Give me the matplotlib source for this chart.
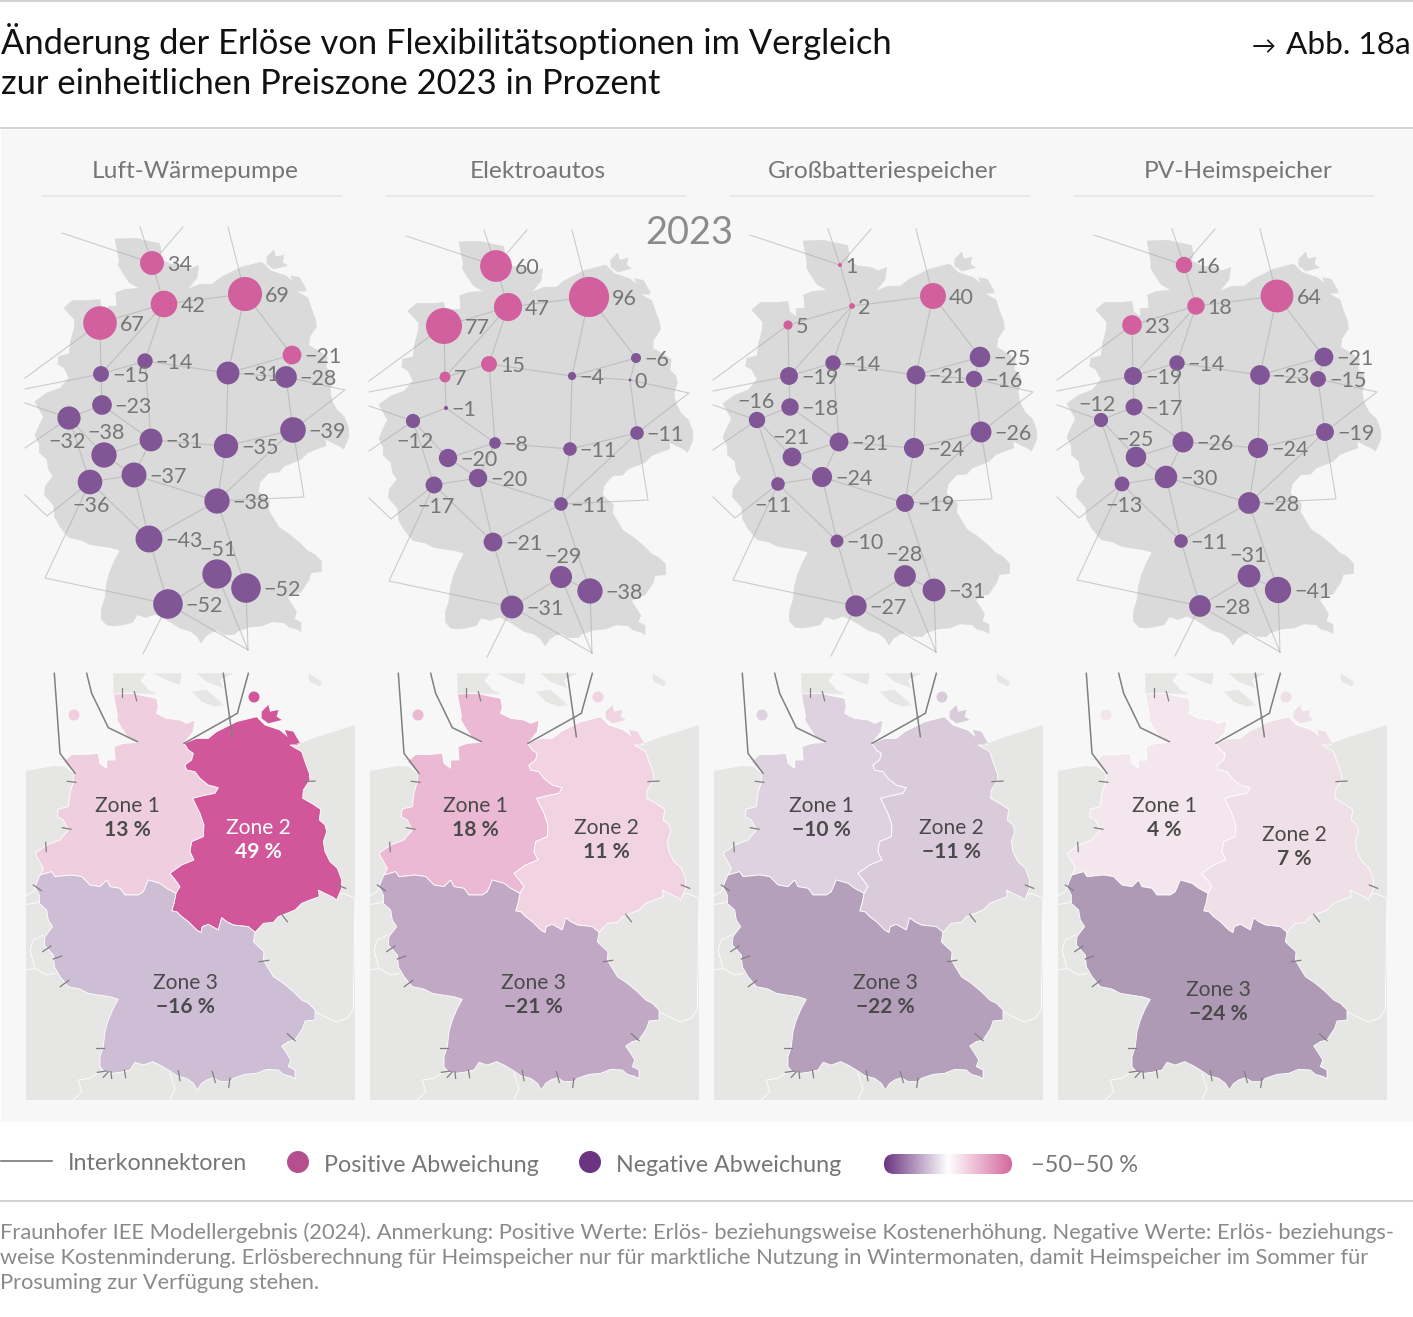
import numpy as np
import matplotlib
matplotlib.use('Agg')
import matplotlib.pyplot as plt
from matplotlib.colors import LinearSegmentedColormap
from matplotlib.patches import Polygon, Circle, FancyBboxPatch, Rectangle

FONT = 'Lato'
PT = 0.72  # px to pt at dpi 100

TITLE_LINES = ['Änderung der Erlöse von Flexibilitätsoptionen im Vergleich',
               'zur einheitlichen Preiszone 2023 in Prozent']
PANELS = ['Luft-Wärmepumpe', 'Elektroautos', 'Großbatteriespeicher', 'PV-Heimspeicher']
PANEL_CENTERS = [195, 538, 883, 1238]
FOOTNOTE = ['Fraunhofer IEE Modellergebnis (2024). Anmerkung: Positive Werte: Erlös- beziehungsweise Kostenerhöhung. Negative Werte: Erlös- beziehungs-',
            'weise Kostenminderung. Erlösberechnung für Heimspeicher nur für marktliche Nutzung in Wintermonaten, damit Heimspeicher im Sommer für',
            'Prosuming zur Verfügung stehen.']

# node values, same node order in every panel
VALUES_HP = [34, 42, 69, 67, -21, -14, -15, -31, -28, -23, -32, -39, -31, -35, -38, -37, -36, -38, -43, -51, -52, -52]
VALUES_EV = [60, 47, 96, 77, -6, 15, 7, -4, 0, -1, -12, -11, -8, -11, -20, -20, -17, -11, -21, -29, -38, -31]
VALUES_BAT = [1, 2, 40, 5, -25, -14, -19, -21, -16, -18, -16, -26, -21, -24, -21, -24, -11, -19, -10, -28, -31, -27]
VALUES_PV = [16, 18, 64, 23, -21, -14, -19, -23, -15, -17, -12, -19, -26, -24, -25, -30, -13, -28, -11, -31, -41, -28]
NODE_VALUES = [VALUES_HP, VALUES_EV, VALUES_BAT, VALUES_PV]
# the -21 node in the first panel is drawn pink in the source
PINK_NODES = [{4}, set(), set(), set()]

# zone results per panel
ZONE_VALUES = [[13, 49, -16], [18, 11, -21], [-10, -11, -22], [4, 7, -24]]
ZONE_COLORS = [['#efcfdf', '#d2579a', '#cdbdd5'],
               ['#ebb9d3', '#f1d3e1', '#c1a9c6'],
               ['#dfd2e0', '#dacbdb', '#b4a0ba'],
               ['#f3e6ec', '#efdfe6', '#ae9ab5']]
ZONE_TEXT = [[(127, 806), (258, 828), (185, 983)],
             [(475, 806), (606, 828), (533, 983)],
             [(821, 806), (951, 828), (885, 983)],
             [(1164, 806), (1294, 835), (1218, 990)]]

# node location on the first panel (px), others are shifted
NODE_X = [152, 164, 245, 100, 292, 145, 101, 228, 286, 102, 69, 293, 151, 226, 104, 134, 90, 217, 149, 217, 246, 168]
NODE_Y = [263, 304, 294, 323, 355, 361, 374, 373, 377, 405, 418, 430, 440, 446, 455, 475, 482, 501, 539, 574, 588, 604]
PANEL_DX = [0, 344, 688, 1032]
PANEL_DY = [0, 3, 2, 2]

# labels that do not sit right of their bubble
LABEL_POS = [{10: (67, 441), 14: (106, 432), 16: (91, 505), 19: (218, 549)},
             {10: (415, 441), 16: (436, 506), 19: (563, 556)},
             {10: (756, 401), 14: (791, 437), 16: (773, 505), 19: (904, 554)},
             {10: (1097, 404), 14: (1135, 439), 16: (1124, 505), 19: (1248, 555)}]

# interconnector end points outside the nodes (first panel, px)
EXT = {'a': (62, 233), 'b': (140, 227), 'c': (183, 227), 'd': (228, 227), 'e': (25, 378), 'f': (25, 389),
       'g': (25, 403), 'h': (25, 448), 'i': (345, 390), 'j': (304, 497), 'k': (47, 516), 'l': (25, 495),
       'm': (45, 578), 'n': (248, 650), 'o': (143, 654)}
LINKS = [[0, 1], [0, 'a'], [0, 'b'], [0, 'c'], [1, 2], [1, 3], [1, 5], [1, 6], [2, 7], [2, 4], [2, 'd'],
         [3, 6], [3, 'e'], [6, 5], [6, 9], [6, 'f'], [5, 7], [5, 12], [7, 4], [7, 8], [7, 13], [4, 8], [8, 11],
         [8, 'i', 11], [9, 10], [9, 12], [10, 14], [10, 16], [10, 'g'], [10, 'h'], [14, 15], [14, 12], [12, 13],
         [12, 15], [15, 16], [15, 18], [15, 17], [16, 18], [16, 'k', 'l'], [16, 'm', 21], [13, 11], [13, 17],
         [11, 17], [11, 'j', 17], [17, 18], [17, 20], [18, 21], [19, 21], [19, 20], [19, 'n'], [20, 'n'], [21, 'n'], [21, 'o']]

# map outlines, traced at 3x of the first panel, origin at y=665
ZONE1 = [(340, 87), (400, 85), (435, 93), (470, 100), (475, 125), (470, 145), (500, 160), (540, 165), (560, 175),
         (585, 165), (580, 200), (552, 235), (565, 255), (580, 265), (575, 285), (555, 300), (560, 315), (585, 320),
         (600, 340), (625, 360), (655, 368), (645, 385), (610, 392), (578, 400), (590, 425), (600, 445), (612, 480),
         (610, 515), (575, 530), (570, 560), (582, 585), (545, 600), (510, 625), (530, 650), (540, 665), (528, 685),
         (500, 670), (480, 655), (445, 645), (430, 680), (415, 690), (375, 690), (360, 670), (330, 665), (320, 645),
         (300, 665), (270, 660), (245, 635), (215, 630), (165, 635), (155, 620), (120, 630), (130, 610), (105, 565),
         (140, 540), (180, 525), (205, 495), (190, 465), (172, 455), (175, 432), (205, 425), (210, 385), (220, 350),
         (222, 325), (190, 290), (215, 268), (260, 268), (295, 265), (300, 295), (320, 310), (320, 285), (345, 285),
         (342, 245), (370, 235), (412, 232), (382, 215), (365, 190), (350, 165), (352, 150), (345, 115)]
ZONE2 = [(552, 235), (590, 220), (625, 220), (650, 200), (710, 170), (770, 155), (795, 180), (840, 195), (870, 220),
         (900, 240), (870, 240), (905, 260), (915, 290), (928, 325), (930, 345), (910, 375), (908, 400), (935, 415),
         (962, 433), (958, 465), (975, 480), (980, 500), (970, 530), (975, 560), (990, 590), (1012, 610), (1025, 645),
         (1025, 670), (1010, 705), (1000, 697), (975, 685), (955, 675), (958, 695), (930, 705), (905, 715), (885, 735),
         (860, 745), (835, 755), (820, 772), (790, 775), (765, 802), (745, 785), (700, 780), (680, 770), (665, 758),
         (655, 795), (625, 778), (607, 785), (603, 803), (590, 795), (565, 770), (545, 755), (530, 740), (515, 738),
         (522, 715), (528, 685), (540, 665), (530, 650), (510, 625), (545, 600), (582, 585), (570, 560), (575, 530),
         (610, 515), (612, 480), (600, 445), (590, 425), (578, 400), (610, 392), (645, 385), (655, 368), (625, 360),
         (600, 340), (585, 320), (560, 315), (555, 300), (575, 285), (580, 265), (565, 255)]
RUEGEN = [(785, 140), (805, 120), (810, 140), (835, 135), (830, 155), (845, 165), (805, 175), (785, 160)]
USEDOM = [(855, 195), (880, 200), (900, 235), (870, 235)]
ZONE3 = [(120, 630), (155, 620), (165, 635), (215, 630), (245, 635), (270, 660), (300, 665), (320, 645), (330, 665),
         (360, 670), (375, 690), (415, 690), (430, 680), (445, 645), (480, 655), (500, 670), (528, 685), (522, 715),
         (515, 738), (530, 740), (545, 755), (565, 770), (590, 795), (603, 803), (607, 785), (625, 778), (655, 795),
         (665, 758), (680, 770), (700, 780), (745, 785), (765, 802), (760, 830), (775, 845), (792, 860), (790, 885),
         (805, 910), (820, 935), (850, 955), (880, 980), (905, 1005), (925, 1015), (945, 1035), (945, 1065), (915, 1068),
         (908, 1090), (885, 1125), (865, 1130), (845, 1143), (860, 1165), (872, 1185), (865, 1205), (885, 1215),
         (885, 1242), (875, 1235), (850, 1228), (835, 1215), (800, 1213), (770, 1225), (735, 1228), (700, 1240),
         (690, 1250), (660, 1250), (640, 1238), (620, 1245), (605, 1255), (592, 1275), (580, 1255), (560, 1240),
         (530, 1232), (510, 1218), (480, 1200), (458, 1190), (430, 1200), (405, 1192), (390, 1215), (360, 1222),
         (335, 1225), (315, 1222), (300, 1205), (300, 1175), (310, 1145), (315, 1100), (325, 1065), (340, 1030),
         (355, 1003), (330, 995), (295, 990), (265, 985), (240, 972), (205, 965), (180, 935), (163, 905), (160, 870),
         (133, 840), (135, 815), (158, 785), (145, 765), (140, 735), (118, 715), (118, 690), (105, 665)]
NEIGHBOURS = [(78, 1305), (78, 318), (160, 303), (195, 305), (225, 330), (350, 300), (600, 300), (900, 235),
              (940, 220), (1065, 180), (1065, 1305)]
DENMARK = [[(340, 25), (440, 25), (420, 45), (445, 75), (470, 88), (400, 85), (340, 87)],
           [(460, 25), (545, 25), (540, 60), (500, 45)],
           [(575, 80), (620, 75), (650, 100), (670, 120), (645, 125), (605, 110)],
           [(590, 25), (700, 25), (660, 45), (670, 70), (620, 50)],
           [(925, 25), (965, 50), (960, 65), (930, 50)]]
BORDERS = [[(78, 690), (100, 680), (105, 665)], [(78, 718), (105, 715), (118, 708)],
           [(80, 915), (105, 910), (90, 855), (100, 825), (130, 810)], [(105, 910), (140, 930), (165, 925)],
           [(220, 1305), (245, 1280), (235, 1245), (270, 1240), (300, 1220)], [(510, 1305), (525, 1270), (510, 1225)],
           [(945, 1040), (985, 1060), (1010, 1070), (1040, 1060), (1060, 1035), (1065, 700), (1030, 685), (1015, 690)]]
INTERCONNECT = [[(163, 25), (180, 265), (225, 325)], [(260, 25), (275, 85), (325, 188), (412, 230)],
                [(670, 25), (697, 215)], [(745, 25), (712, 145), (552, 235)]]
STUBS = [[(202, 349), (228, 352)], [(187, 488), (213, 493)], [(137, 532), (139, 560)], [(100, 660), (124, 677)],
         [(128, 860), (153, 843)], [(160, 882), (185, 873)], [(181, 965), (206, 946)], [(287, 1149), (313, 1149)],
         [(292, 1222), (318, 1218)], [(310, 1237), (325, 1220)], [(333, 1220), (335, 1240)], [(373, 1215), (377, 1238)],
         [(535, 1217), (540, 1247)], [(637, 1220), (646, 1252)], [(690, 1240), (686, 1267)], [(862, 1106), (885, 1127)],
         [(778, 890), (806, 886)], [(845, 748), (862, 770)], [(1012, 660), (1037, 670)], [(912, 350), (945, 348)],
         [(365, 70), (365, 97)], [(403, 80), (410, 107)]]

GREY_TEXT = '#767676'
PINK = '#d2599b'
PURPLE = '#7d4f93'


def low_map(points, dx):
    pts = np.array(points, dtype=float)
    return np.column_stack([pts[:, 0] / 3 + dx, pts[:, 1] / 3 + 665])


def high_map(points, dx, dy):
    pts = low_map(points, 0)
    return np.column_stack([35 + (pts[:, 0] - 35) * 1.023 + dx, 238 + (pts[:, 1] - 693) * 1.02 + dy])


def fmt(v):
    return str(v).replace('-', '\u2212')


plt.rcParams['font.family'] = [FONT, 'DejaVu Sans']
fig = plt.figure(figsize=(14.13, 13.17), dpi=100, facecolor='white')
ax = fig.add_axes([0, 0, 1, 1])
ax.set_xlim(0, 1413)
ax.set_ylim(1317, 0)
ax.axis('off')

# frame
ax.add_patch(Rectangle((1, 130), 1412, 992, fc='#f7f7f7', ec='none', zorder=0))
for y in [0.5, 128, 1200.5]:
    ax.plot([0, 1413], [y, y], color='#cfcfcf', lw=1.3, zorder=1)

# title
for line, y in zip(TITLE_LINES, [54, 94]):
    ax.text(1, y, line, fontsize=34.5 * PT, color='#111111', va='baseline', ha='left')
ax.text(1411, 54, 'Abb. 18a', fontsize=31.5 * PT, color='#111111', va='baseline', ha='right')
ax.text(1264, 54, '\u2192', fontsize=24 * PT, color='#111111', va='baseline', ha='center')

# column heads
for name, xc, dx in zip(PANELS, PANEL_CENTERS, PANEL_DX):
    ax.text(xc, 172, name, fontsize=24.5 * PT, color=GREY_TEXT, ha='center', va='center')
    ax.plot([42 + dx, 341 + dx], [196, 196], color='#e6e6e6', lw=1.2, zorder=1)
ax.text(689, 233, '2023', fontsize=38 * PT, color='#8c8c8c', ha='center', va='center', zorder=6)

for p in range(4):
    dx, dy = PANEL_DX[p], PANEL_DY[p]
    # upper map with bubbles
    for shape in [ZONE1, ZONE2, ZONE3, RUEGEN, USEDOM]:
        ax.add_patch(Polygon(high_map(shape, dx, dy), fc='#dadada', ec='#dadada', lw=0.5, zorder=2))

    xs = [x + dx for x in NODE_X]
    ys = [y + dy for y in NODE_Y]
    for link in LINKS:
        lx, ly = [], []
        for n in link:
            if isinstance(n, str):
                lx.append(EXT[n][0] + dx)
                ly.append(EXT[n][1] + dy)
            else:
                lx.append(xs[n])
                ly.append(ys[n])
        ax.plot(lx, ly, color='#a8a8a8', lw=0.8, alpha=0.55, zorder=3)

    vals = np.array(NODE_VALUES[p], dtype=float)
    radii = 2.05 * np.sqrt(np.maximum(np.abs(vals), 0.5))
    colors = [PINK if (v > 0 or i in PINK_NODES[p]) else PURPLE for i, v in enumerate(vals)]
    ax.scatter(xs, ys, s=(2 * radii * PT) ** 2, c=colors, alpha=0.95, linewidths=0, zorder=4)
    for i, v in enumerate(NODE_VALUES[p]):
        if i in LABEL_POS[p]:
            lx, ly = LABEL_POS[p][i]
            ax.text(lx, ly + 1, fmt(v), fontsize=21.5 * PT, color=GREY_TEXT, ha='center', va='center', zorder=5)
        else:
            ax.text(xs[i] + radii[i] + 3, ys[i] + 2, fmt(v), fontsize=21.5 * PT, color=GREY_TEXT, ha='left', va='center', zorder=5)

    # lower map with zones
    mx = dx
    ax.add_patch(Polygon(low_map(NEIGHBOURS, mx), fc='#e6e6e4', ec='none', zorder=2))
    for shape in DENMARK:
        ax.add_patch(Polygon(low_map(shape, mx), fc='#e6e6e4', ec='none', zorder=2))
    for line in BORDERS:
        pts = low_map(line, mx)
        ax.plot(pts[:, 0], pts[:, 1], color='white', lw=0.6, zorder=3)
    cols = ZONE_COLORS[p]
    ax.add_patch(Polygon(low_map(ZONE1, mx), fc=cols[0], ec='white', lw=0.6, zorder=4))
    ax.add_patch(Polygon(low_map(ZONE2, mx), fc=cols[1], ec='white', lw=0.6, zorder=4))
    ax.add_patch(Polygon(low_map(RUEGEN, mx), fc=cols[1], ec='none', zorder=4))
    ax.add_patch(Polygon(low_map(USEDOM, mx), fc=cols[1], ec='none', zorder=4))
    ax.add_patch(Polygon(low_map(ZONE3, mx), fc=cols[2], ec='white', lw=0.6, zorder=4))
    ax.add_patch(Circle((74 + mx, 715), 5.5, fc=cols[0], ec='none', zorder=4))
    ax.add_patch(Circle((254 + mx, 697), 5.5, fc=cols[1], ec='none', zorder=4))
    for line in INTERCONNECT:
        pts = low_map(line, mx)
        ax.plot(pts[:, 0], pts[:, 1], color='#808080', lw=1.1, zorder=5)
    for line in STUBS:
        pts = low_map(line, mx)
        ax.plot(pts[:, 0], pts[:, 1], color='#808080', lw=0.9, zorder=5)

    for z, (tx, ty) in enumerate(ZONE_TEXT[p]):
        tcol = 'white' if ZONE_VALUES[p][z] > 40 else '#4a4a4a'
        ax.text(tx, ty, f'Zone {z + 1}', fontsize=21 * PT, color=tcol, ha='center', va='center', zorder=6)
        ax.text(tx, ty + 24, fmt(ZONE_VALUES[p][z]) + ' %', fontsize=21 * PT, fontweight='bold', color=tcol,
                ha='center', va='center', zorder=6)

# legend
ax.plot([1, 52], [1161, 1161], color='#777777', lw=1.2)
ax.text(68, 1164, 'Interkonnektoren', fontsize=23.3 * PT, color=GREY_TEXT, va='center')
ax.add_patch(Circle((298, 1162), 11, fc='#b5508f', ec='none'))
ax.text(324, 1165, 'Positive Abweichung', fontsize=23.3 * PT, color=GREY_TEXT, va='center')
ax.add_patch(Circle((590, 1162), 11, fc='#6a3480', ec='none'))
ax.text(616, 1165, 'Negative Abweichung', fontsize=23.3 * PT, color=GREY_TEXT, va='center')
cmap = LinearSegmentedColormap.from_list('dev', ['#6a3480', '#ffffff', '#d5689f'])
bar = FancyBboxPatch((894, 1164), 108, 0, boxstyle='round,pad=10,rounding_size=10', fc='none', ec='none')
ax.add_patch(bar)
im = ax.imshow(np.linspace(0, 1, 256).reshape(1, -1), cmap=cmap, extent=(884, 1012, 1174, 1154), aspect='auto', zorder=3)
im.set_clip_path(bar)
ax.set_xlim(0, 1413)
ax.set_ylim(1317, 0)
ax.text(1031, 1165, '\u221250\u221250 %', fontsize=23.5 * PT, color=GREY_TEXT, va='center')

# source note
for line, y in zip(FOOTNOTE, [1233, 1258, 1283]):
    ax.text(0, y, line, fontsize=21.9 * PT, color='#8a8a8a', va='center')

fig.savefig('out.png', dpi=100)
